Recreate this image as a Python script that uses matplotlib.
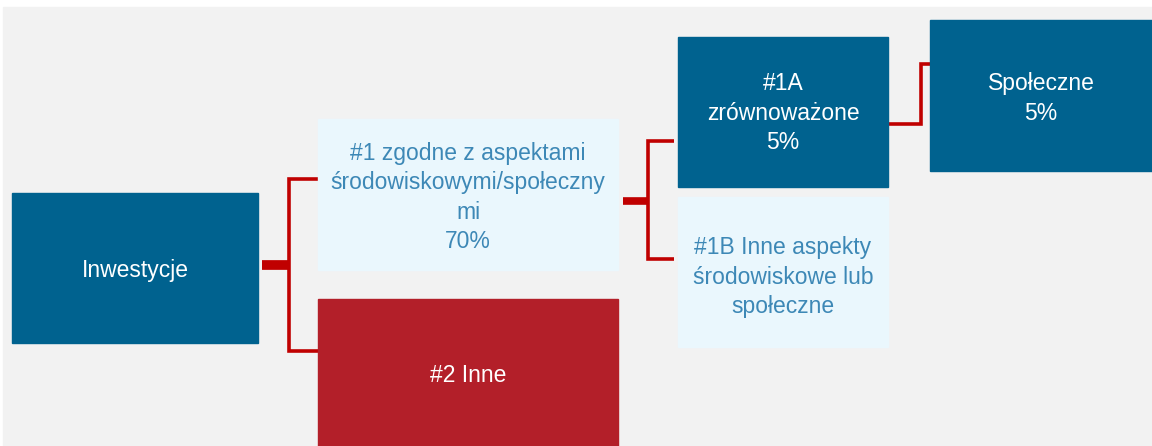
import matplotlib.pyplot as plt
from matplotlib.patches import Rectangle

plt.rcParams['font.family'] = ['Liberation Sans', 'DejaVu Sans']

# node labels
root_label = "Inwestycje"
n1_label = "#1 zgodne z aspektami\nśrodowiskowymi/społeczny\nmi\n70%"
n2_label = "#2 Inne"
n1a_label = "#1A\nzrównoważone\n5%"
n1b_label = "#1B Inne aspekty\nśrodowiskowe lub\nspołeczne"
soc_label = "Społeczne\n5%"

DARK = "#00628f"
LIGHT = "#eaf7fd"
RED = "#b31f29"
LINE = "#c00000"
LTEXT = "#3d88b6"

fig = plt.figure(figsize=(11.52, 4.46), dpi=100)
ax = fig.add_axes([0, 0, 1, 1])
ax.set_xlim(0, 1152)
ax.set_ylim(446, 0)
ax.axis("off")

ax.add_patch(Rectangle((3, 7), 1149, 439, color="#f2f2f2", zorder=0))

def box(x, y, w, h, fc, label, tc, dy=0):
    ax.add_patch(Rectangle((x, y), w, h, color=fc, zorder=2))
    ax.text(x + w / 2, y + h / 2 + dy, label, ha="center", va="center", color=tc,
            fontsize=16.5, linespacing=1.36, zorder=3)

box(12, 193, 246, 150, DARK, root_label, "white", 3)
box(318, 119, 300, 151, LIGHT, n1_label, LTEXT, 3)
box(318, 299, 300, 150, RED, n2_label, "white", 2)
box(678, 37, 210, 150, DARK, n1a_label, "white", 1)
box(678, 197, 210, 150, LIGHT, n1b_label, LTEXT, 5)
box(930, 20, 222, 151, DARK, soc_label, "white", 3)

# connectors
kw = dict(color=LINE, lw=2.6, zorder=1, solid_joinstyle="miter", solid_capstyle="butt")
ax.plot([262, 289], [265, 265], color=LINE, lw=7, solid_capstyle="butt", zorder=1)
ax.plot([318, 289, 289, 318], [179, 179, 351, 351], **kw)
ax.plot([623, 648], [201, 201], color=LINE, lw=5.5, solid_capstyle="butt", zorder=1)
ax.plot([674, 648, 648, 674], [141, 141, 259, 259], **kw)
ax.plot([888, 921, 921, 930], [124, 124, 64, 64], **kw)

fig.savefig("out.png", dpi=100)
